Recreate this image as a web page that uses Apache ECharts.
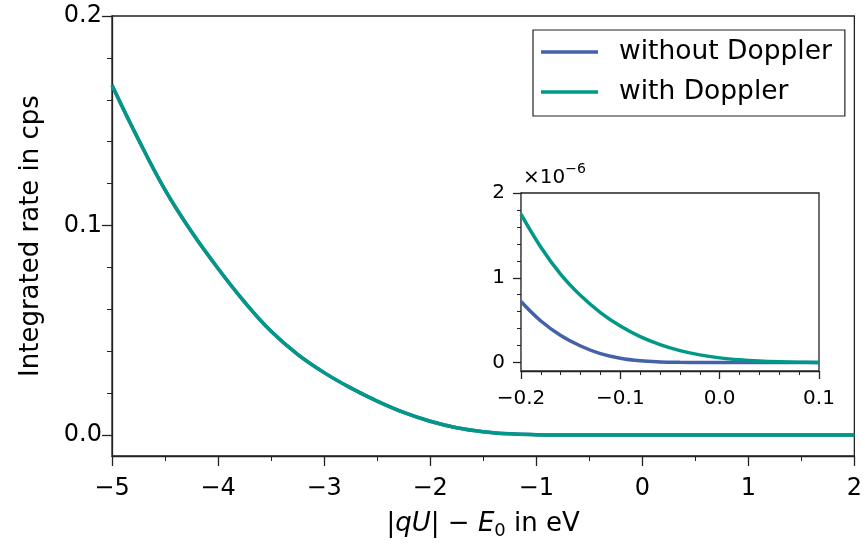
<!DOCTYPE html>
<html>
<head>
<meta charset="utf-8">
<script src="https://cdn.jsdelivr.net/npm/echarts@6/dist/echarts.min.js"></script>
<style>
html,body{margin:0;padding:0;background:#fff;}
#chart{width:865px;height:545px;}
</style>
</head>
<body>
<div id="chart"></div>
<script>
// ---- data ----
const mainX = [-5, -4.75, -4.5, -4.25, -4, -3.75, -3.5, -3.25, -3, -2.75, -2.5, -2.25, -2, -1.75, -1.5, -1.25, -1, -0.75, -0.5, -0.25, 0, 0.25, 0.5, 0.75, 1, 1.25, 1.5, 1.75, 2];
const mainWithout = [0.167, 0.141, 0.117, 0.097, 0.0795, 0.0635, 0.0495, 0.0385, 0.0298, 0.0225, 0.0162, 0.0108, 0.0066, 0.0035, 0.0016, 0.0006, 0.0002, 0.00005, 0.00001, 0, 0, 0, 0, 0, 0, 0, 0, 0, 0];
const mainWith    = [0.167, 0.141, 0.117, 0.097, 0.0795, 0.0635, 0.0495, 0.0385, 0.0298, 0.0225, 0.0162, 0.0108, 0.0066, 0.0035, 0.0016, 0.0006, 0.0002, 0.00005, 0.00001, 0, 0, 0, 0, 0, 0, 0, 0, 0, 0];

// inset, values in units of 1e-6 cps
const insetX = [-0.2, -0.18, -0.16, -0.14, -0.12, -0.1, -0.08, -0.06, -0.04, -0.02, 0, 0.02, 0.04, 0.06, 0.08, 0.1];
const insetWithout = [0.72, 0.49, 0.32, 0.195, 0.105, 0.05, 0.02, 0.007, 0.002, 0.0005, 0.0001, 0, 0, 0, 0, 0];
const insetWith    = [1.75, 1.36, 1.04, 0.79, 0.59, 0.43, 0.305, 0.21, 0.14, 0.09, 0.055, 0.032, 0.017, 0.008, 0.003, 0.001];

const mainYTicks = [0, 0.1, 0.2];
const mainYMinor = [0.02, 0.04, 0.06, 0.08, 0.12, 0.14, 0.16, 0.18];
const insetYTicks = [0, 1, 2];
const insetYMinor = [0.2, 0.4, 0.6, 0.8, 1.2, 1.4, 1.6, 1.8];

const seriesNames = ['without Doppler', 'with Doppler'];
const colors = ['#4462a9', '#009988'];

// ---- chart ----
const FONT = 'DejaVu Sans';
const ink = '#000';
const minus = v => String(v).replace('-', '\u2212');
const pairs = (xs, ys) => xs.map((x, i) => [x, ys[i]]);

const chart = echarts.init(document.getElementById('chart'), null, {renderer: 'canvas'});

const axisLineStyle = {onZero: false, lineStyle: {color: '#222', width: 1.3}};

const option = {
  backgroundColor: '#fff',
  animation: false,
  textStyle: {fontFamily: FONT, color: ink},
  grid: [
    {left: 112, top: 16, width: 744, height: 444, show: true, borderColor: '#222', borderWidth: 1.3, backgroundColor: 'transparent'},
    {left: 521, top: 193, width: 298, height: 178, show: true, borderColor: '#222', borderWidth: 1.3, backgroundColor: '#fff', z: 5}
  ],
  xAxis: [
    {
      type: 'value', gridIndex: 0, min: -5, max: 2, interval: 1,
      axisLine: axisLineStyle,
      axisTick: {length: 10, lineStyle: {color: '#222', width: 1.3}},
      minorTick: {show: true, splitNumber: 2, length: 5, lineStyle: {color: '#222', width: 1}},
      splitLine: {show: false},
      axisLabel: {fontSize: 24, color: ink, fontFamily: FONT, margin: 21, formatter: v => minus(v)},
      name: '{n||}{i|qU}{n||}{n| \u2212 }{i|E}{s|0}{n| in eV}',
      nameLocation: 'middle', nameGap: 52,
      nameTextStyle: {
        rich: {
          n: {fontSize: 26, fontFamily: FONT, color: ink, lineHeight: 32},
          i: {fontSize: 26, fontFamily: FONT, fontStyle: 'italic', color: ink, lineHeight: 32},
          s: {fontSize: 18, fontFamily: FONT, color: ink, lineHeight: 32, verticalAlign: 'bottom'}
        }
      }
    },
    {
      type: 'value', gridIndex: 1, min: -0.2, max: 0.1, interval: 0.1,
      axisLine: axisLineStyle,
      axisTick: {length: 8, lineStyle: {color: '#222', width: 1.3}},
      minorTick: {show: true, splitNumber: 5, length: 4, lineStyle: {color: '#222', width: 1}},
      splitLine: {show: false},
      axisLabel: {fontSize: 20, color: ink, fontFamily: FONT, margin: 18, formatter: v => minus(v.toFixed(1))}
    }
  ],
  yAxis: [
    {
      type: 'value', gridIndex: 0, min: -0.01, max: 0.2, position: 'left',
      axisLine: axisLineStyle,
      axisTick: {length: 10, customValues: mainYTicks, lineStyle: {color: '#222', width: 1.3}},
      axisLabel: {fontSize: 24, color: ink, fontFamily: FONT, margin: 10, customValues: mainYTicks, formatter: v => v.toFixed(1)},
      splitLine: {show: false},
      name: 'Integrated rate in cps', nameLocation: 'middle', nameGap: 68, nameRotate: 90,
      nameTextStyle: {fontSize: 26, fontFamily: FONT, color: ink}
    },
    {
      type: 'value', gridIndex: 0, min: -0.01, max: 0.2, position: 'left',
      axisLine: {show: false, onZero: false},
      axisTick: {length: 5, customValues: mainYMinor, lineStyle: {color: '#222', width: 1}},
      axisLabel: {show: false},
      splitLine: {show: false}
    },
    {
      type: 'value', gridIndex: 1, min: -0.1, max: 2, position: 'left',
      axisLine: axisLineStyle,
      axisTick: {length: 8, customValues: insetYTicks, lineStyle: {color: '#222', width: 1.3}},
      axisLabel: {fontSize: 20, color: ink, fontFamily: FONT, margin: 16, customValues: insetYTicks, formatter: v => String(v)},
      splitLine: {show: false}
    },
    {
      type: 'value', gridIndex: 1, min: -0.1, max: 2, position: 'left',
      axisLine: {show: false, onZero: false},
      axisTick: {length: 4, customValues: insetYMinor, lineStyle: {color: '#222', width: 1}},
      axisLabel: {show: false},
      splitLine: {show: false}
    }
  ],
  legend: {
    left: 533, top: 30, orient: 'vertical',
    data: seriesNames,
    icon: 'rect',
    itemWidth: 57, itemHeight: 3.5, itemGap: 10,
    padding: [7, 13, 9, 8],
    borderColor: '#222', borderWidth: 1.2, borderRadius: 0,
    backgroundColor: '#fff',
    textStyle: {fontSize: 26.5, fontFamily: FONT, color: ink, padding: [0, 0, 0, 16], lineHeight: 30}
  },
  graphic: [{
    type: 'text', left: 523, top: 162, z: 10,
    style: {
      text: '{a|\u00d710}{b|\u22126}',
      rich: {
        a: {fontSize: 20, fontFamily: FONT, fill: ink, lineHeight: 26, verticalAlign: 'bottom'},
        b: {fontSize: 14, fontFamily: FONT, fill: ink, lineHeight: 26, verticalAlign: 'top'}
      }
    }
  }],
  series: [
    {name: seriesNames[0], type: 'line', xAxisIndex: 0, yAxisIndex: 0, data: pairs(mainX, mainWithout), symbol: 'none', smooth: 0.4, lineStyle: {color: colors[0], width: 3.5}, itemStyle: {color: colors[0]}},
    {name: seriesNames[1], type: 'line', xAxisIndex: 0, yAxisIndex: 0, data: pairs(mainX, mainWith), symbol: 'none', smooth: 0.4, lineStyle: {color: colors[1], width: 3.5}, itemStyle: {color: colors[1]}},
    {name: seriesNames[0], type: 'line', xAxisIndex: 1, yAxisIndex: 2, data: pairs(insetX, insetWithout), symbol: 'none', smooth: 0.4, lineStyle: {color: colors[0], width: 3.5}, itemStyle: {color: colors[0]}, z: 6},
    {name: seriesNames[1], type: 'line', xAxisIndex: 1, yAxisIndex: 2, data: pairs(insetX, insetWith), symbol: 'none', smooth: 0.4, lineStyle: {color: colors[1], width: 3.5}, itemStyle: {color: colors[1]}, z: 6}
  ]
};
chart.setOption(option);
</script>
</body>
</html>
